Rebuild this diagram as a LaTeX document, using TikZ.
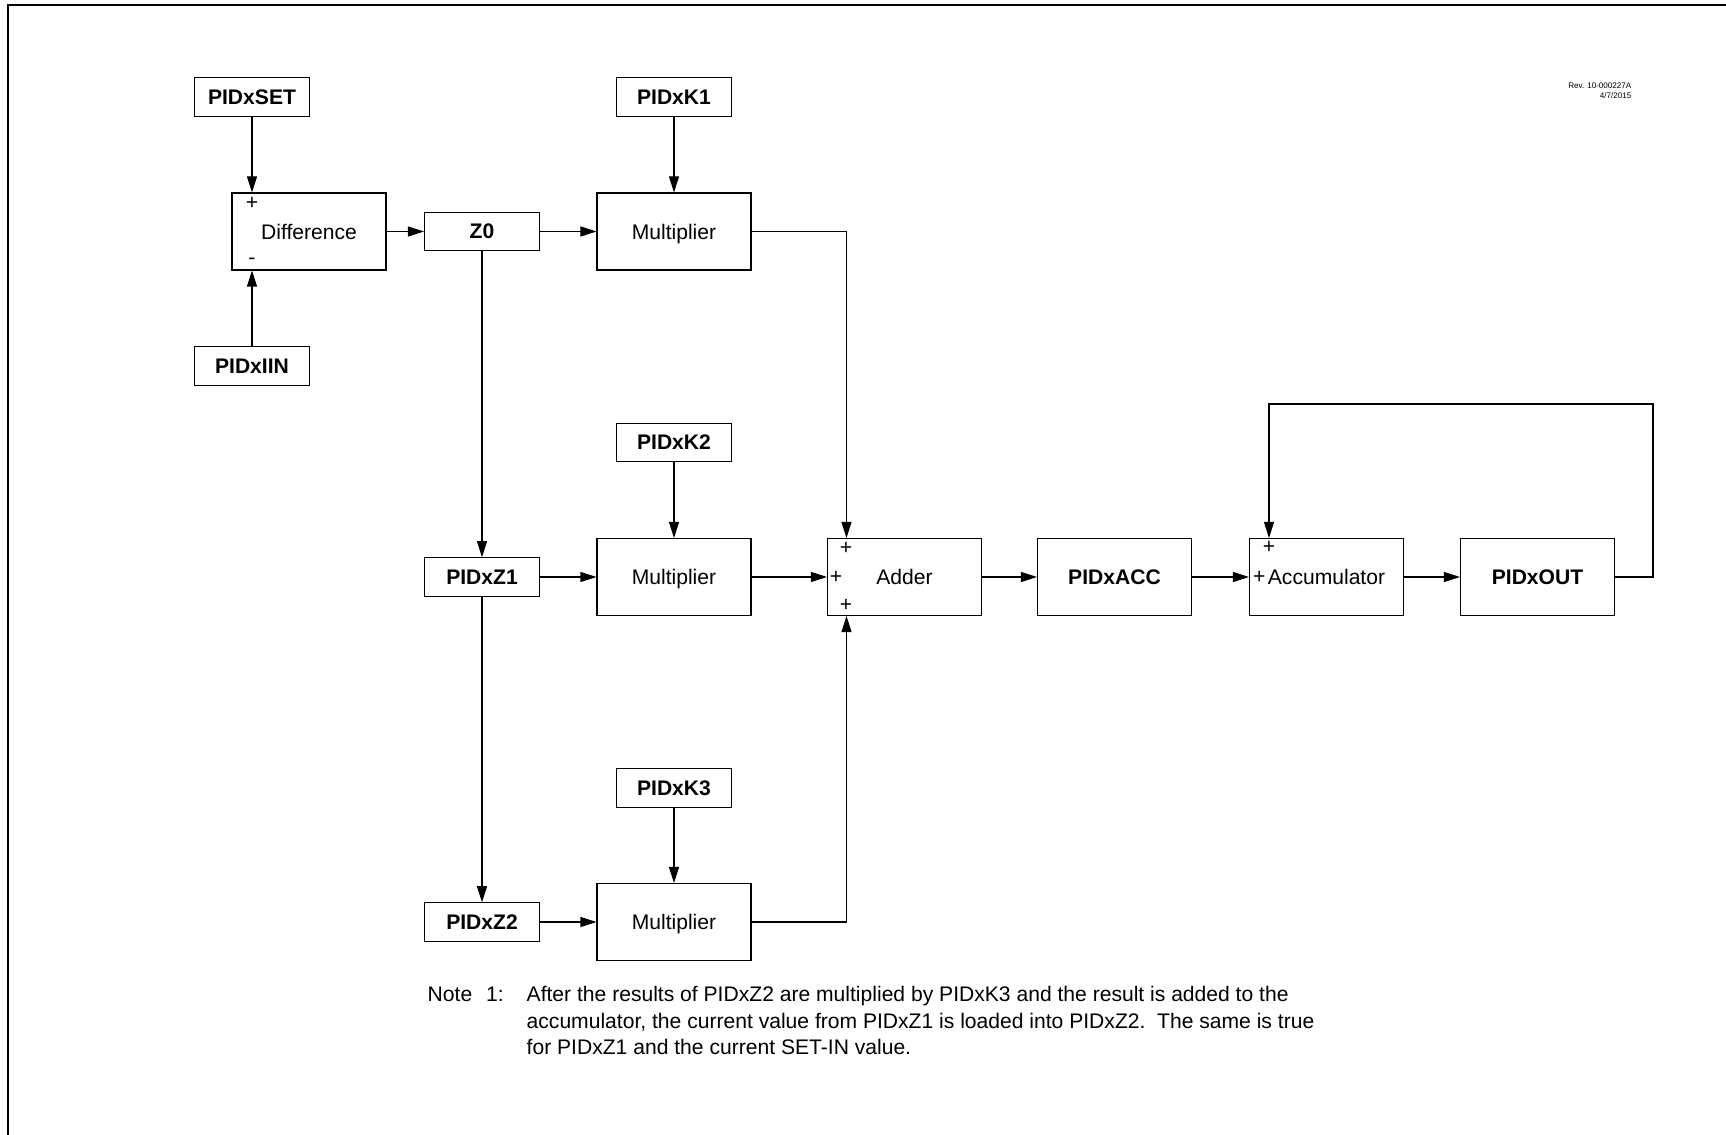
\documentclass[tikz,border=0pt]{standalone}
\usepackage{fontspec}
\setmainfont{Liberation Sans}
\usetikzlibrary{arrows.meta}

\tikzset{
  blk/.style={draw, line width=0.3pt, minimum width=1.54cm, minimum height=0.77cm,
    inner sep=0pt, text depth=0pt, font=\fontsize{6}{7}\selectfont},
  big/.style={blk, font=\fontsize{6}{7}\selectfont\bfseries},
  reg/.style={blk, minimum width=1.15cm, minimum height=0.385cm,
    font=\fontsize{6}{7}\selectfont\bfseries},
  sgn/.style={inner sep=0pt, font=\fontsize{6}{7}\selectfont},
  flow/.style={line width=0.3pt, -{Triangle[length=1.6mm,width=1mm]}}
}

\begin{document}
\begin{tikzpicture}

\useasboundingbox (0,0) rectangle (17.26,-11.35);

% Frame
\draw[line width=0.6pt] (0.08,-11.35) -- (0.08,-0.053) -- (17.26,-0.053);

% Revision stamp
\node[anchor=north east, align=right, inner sep=0pt, font=\fontsize{2.3}{2.9}\selectfont] (rev)
  at (16.32,-0.82) {Rev. 10-000227A\\4/7/2015};

% Difference stage
\node[reg] (set) at (2.52,-0.97) {PIDxSET};
\node[blk] (diff) at (3.09,-2.315) {Difference};
\node[reg] (iin) at (2.52,-3.66) {PIDxIIN};
\node[sgn] (dplus) at (2.52,-2.03) {+};
\node[sgn] (dminus) at (2.52,-2.61) {-};

% Delay registers
\node[reg] (zz) at (4.82,-2.315) {Z0};
\node[reg] (zb) at (4.82,-5.77) {PIDxZ1};
\node[reg] (zc) at (4.82,-9.22) {PIDxZ2};

% Gains and multipliers
\node[reg] (ka) at (6.74,-0.97) {PIDxK1};
\node[reg] (kb) at (6.74,-4.425) {PIDxK2};
\node[reg] (kc) at (6.74,-7.88) {PIDxK3};
\node[blk] (multa) at (6.74,-2.315) {Multiplier};
\node[blk] (multb) at (6.74,-5.77) {Multiplier};
\node[blk] (multc) at (6.74,-9.22) {Multiplier};

% Adder, accumulator and output
\node[blk] (adder) at (9.045,-5.77) {Adder};
\node[big] (acc) at (11.145,-5.77) {PIDxACC};
\node[blk] (accum) at (13.265,-5.77) {Accumulator};
\node[big] (out) at (15.375,-5.77) {PIDxOUT};
\node[sgn] (aplusa) at (8.46,-5.48) {+};
\node[sgn] (aplusb) at (8.36,-5.77) {+};
\node[sgn] (aplusc) at (8.46,-6.05) {+};
\node[sgn] (cplusa) at (12.69,-5.47) {+};
\node[sgn] (cplusb) at (12.593,-5.77) {+};

% Connections
\draw[flow] (set.south) -- (set.south |- diff.north);
\draw[flow] (iin.north) -- (iin.north |- diff.south);
\draw[flow] (diff) -- (zz);
\draw[flow] (zz) -- (multa);
\draw[flow] (zz.south) -- (zb.north);
\draw[flow] (zb.south) -- (zc.north);
\draw[flow] (zb) -- (multb);
\draw[flow] (zc) -- (multc);
\draw[flow] (ka) -- (multa);
\draw[flow] (kb) -- (multb);
\draw[flow] (kc) -- (multc);
\draw[flow] (multa.east) -| ([xshift=-5.8mm]adder.north);
\draw[flow] (multb) -- (adder);
\draw[flow] (multc.east) -| ([xshift=-5.8mm]adder.south);
\draw[flow] (adder) -- (acc);
\draw[flow] (acc) -- (accum);
\draw[flow] (accum) -- (out);

% Feedback
\coordinate (fb) at (16.53,-4.04);
\draw[flow] (out.east) -| (fb) -| ([xshift=-5.75mm]accum.north);

% Note
\node[anchor=north west, inner sep=0pt, font=\fontsize{6}{7}\selectfont] (notelbl)
  at (4.27,-9.86) {Note\hspace{1.4mm}1:};
\node[anchor=north west, inner sep=0pt, align=left, font=\fontsize{6}{7.46}\selectfont] (notetxt)
  at (5.26,-9.86) {After the results of PIDxZ2 are multiplied by PIDxK3 and the result is added to the\\
  accumulator, the current value from PIDxZ1 is loaded into PIDxZ2.\ \ The same is true\\
  for PIDxZ1 and the current SET-IN value.};

\end{tikzpicture}
\end{document}
